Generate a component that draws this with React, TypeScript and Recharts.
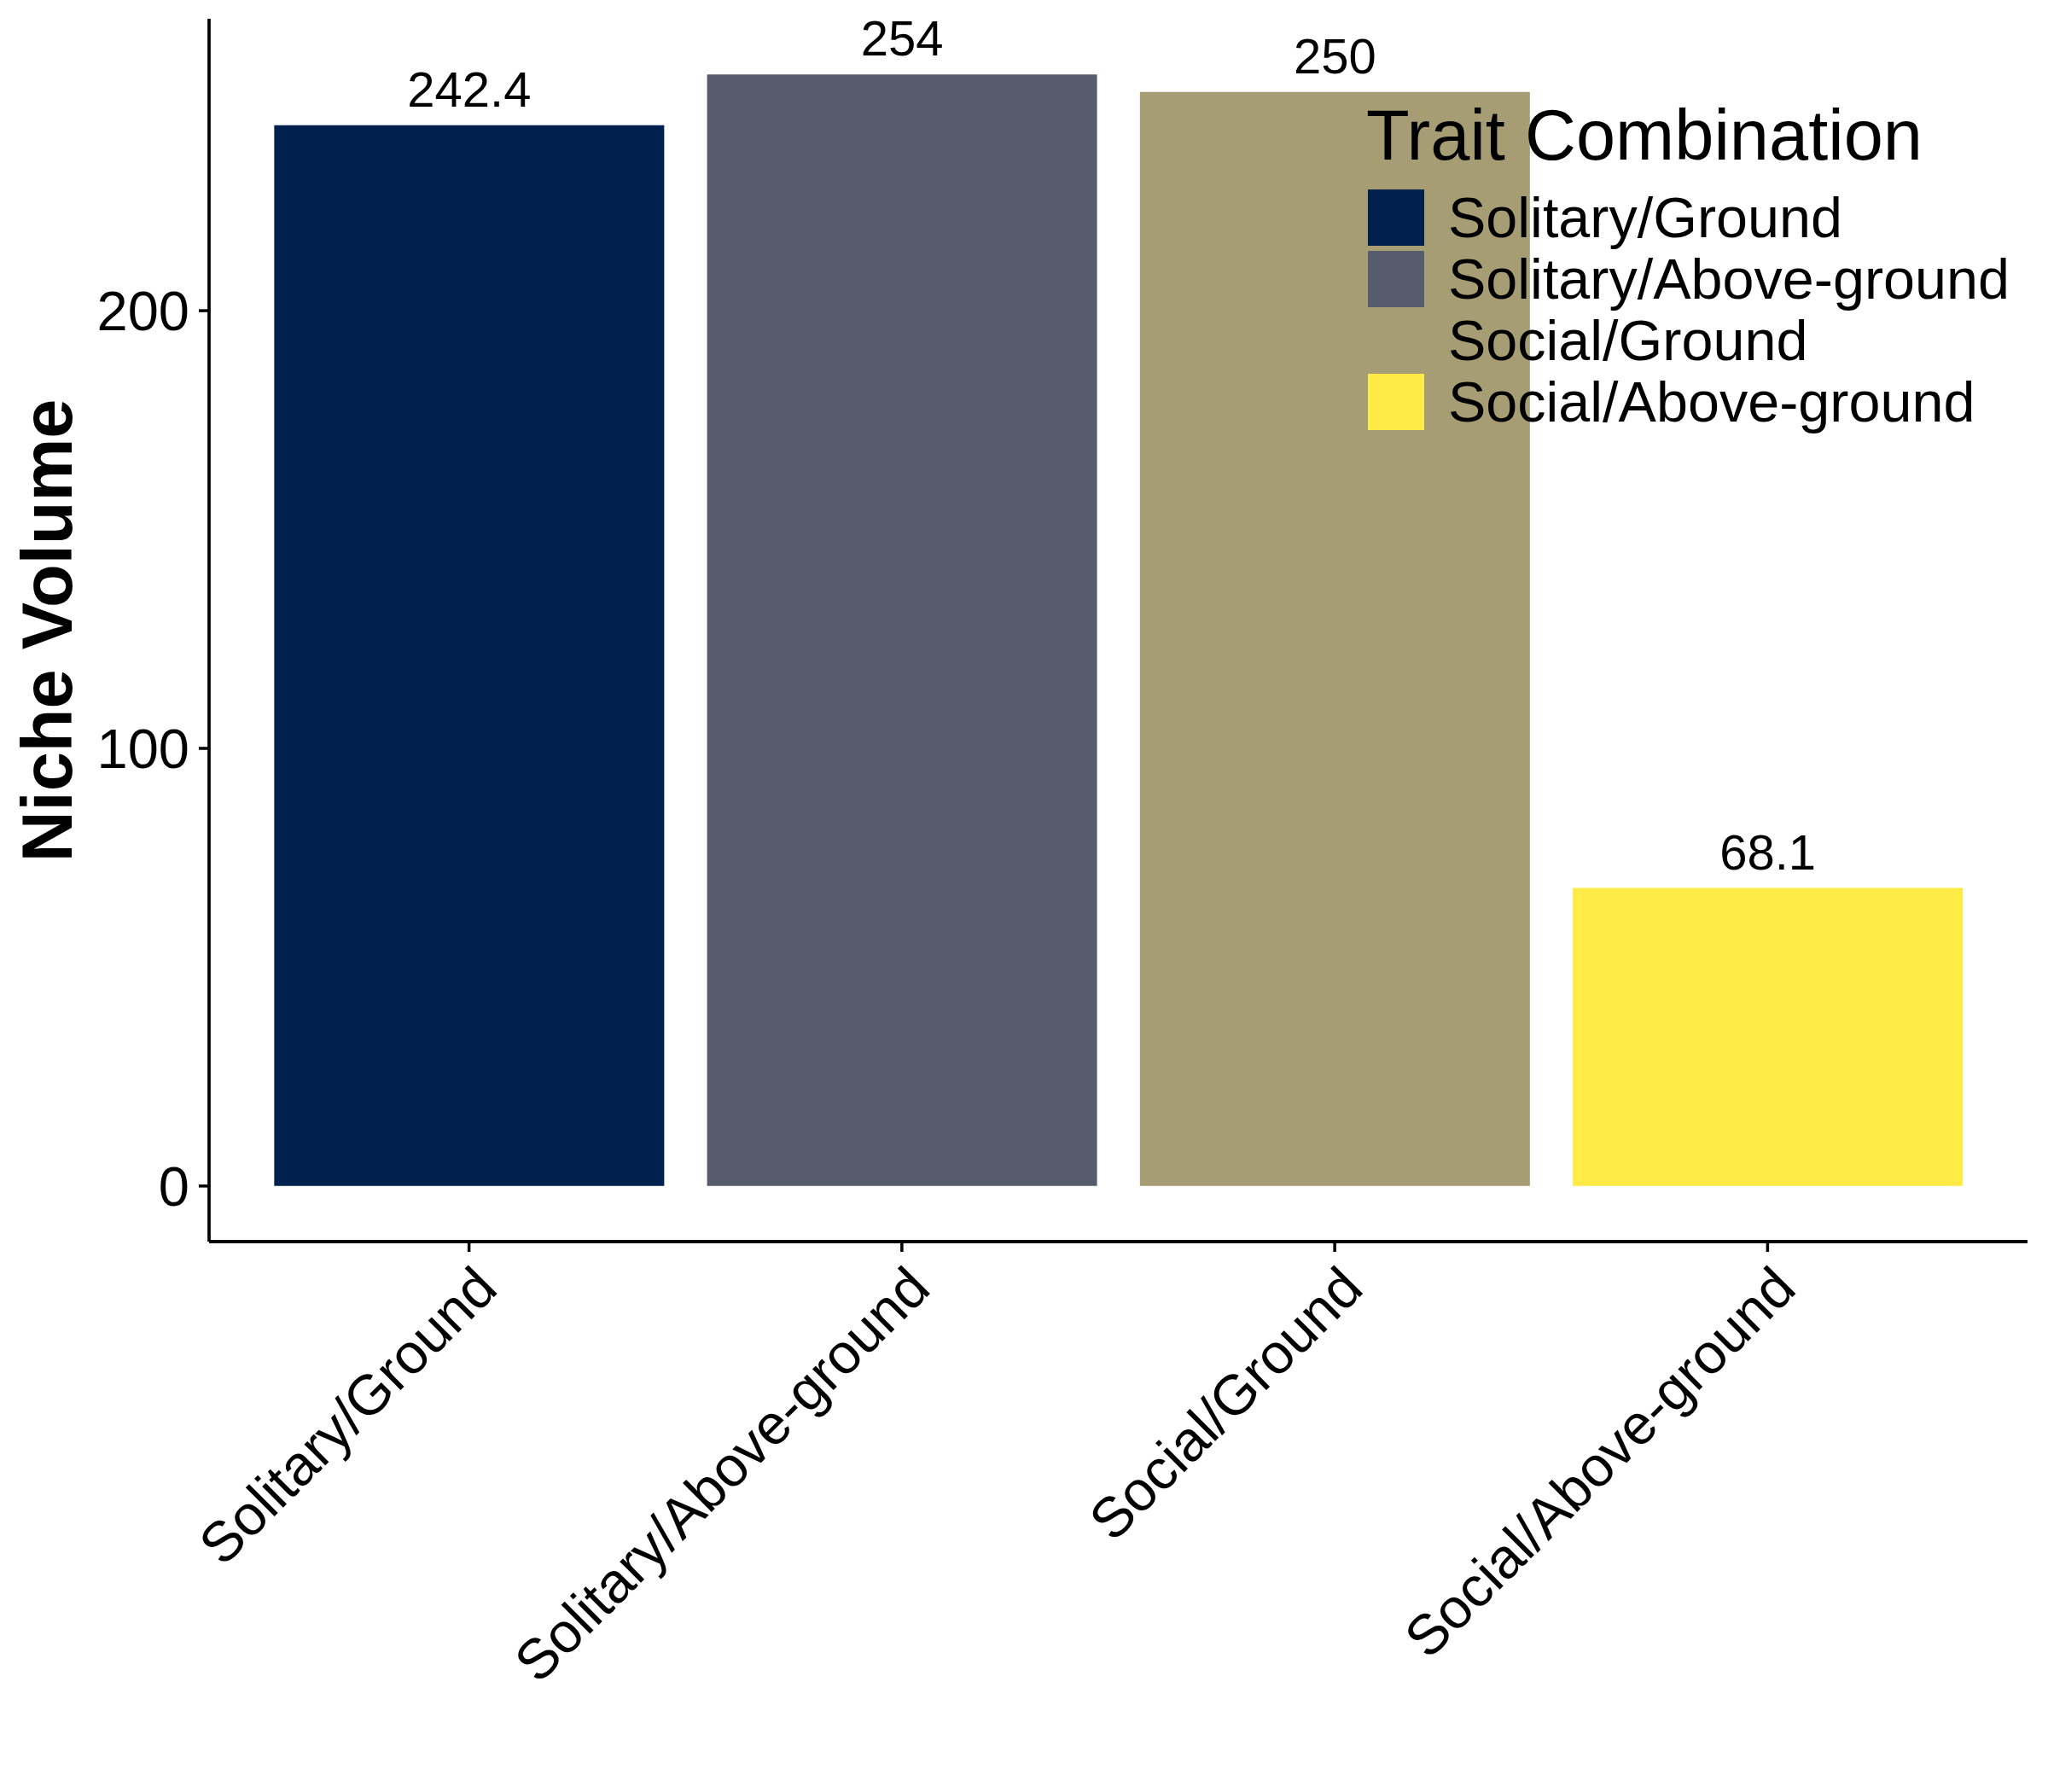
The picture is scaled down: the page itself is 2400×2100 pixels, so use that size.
import React from 'react';
import { BarChart, Bar, Cell, XAxis, YAxis, LabelList, Legend } from 'recharts';

const categories = ['Solitary/Ground', 'Solitary/Above-ground', 'Social/Ground', 'Social/Above-ground'];
const nicheVolume = [242.4, 254, 250, 68.1];
const valueLabels = ['242.4', '254', '250', '68.1'];
const colors = ['#00204D', '#575C6D', '#A69D75', '#FFEA46'];
const yTicks = [0, 100, 200];

const data = categories.map((name, i) => ({ name, value: nicheVolume[i], label: valueLabels[i] }));

const FONT = '"Liberation Sans", Arial, Helvetica, sans-serif';

// rotated 45deg category labels, right end hanging under the tick
function XTick({ x, y, payload }: any) {
  const tx = x + 36;
  const ty = y + 44;
  return (
    <text
      x={tx}
      y={ty}
      textAnchor="end"
      fontSize={66}
      fontFamily={FONT}
      fill="#000"
      transform={`rotate(-45, ${tx}, ${ty})`}
    >
      {payload.value}
    </text>
  );
}

function YTitle() {
  return (
    <text
      x={84}
      y={739}
      textAnchor="middle"
      fontSize={83}
      fontWeight="bold"
      fontFamily={FONT}
      fill="#000"
      transform="rotate(-90, 84, 739)"
    >
      Niche Volume
    </text>
  );
}

function TraitLegend() {
  return (
    <svg width={820} height={420} style={{ display: 'block' }}>
      <text x={11} y={77} fontSize={83} fontFamily={FONT} fill="#000">
        Trait Combination
      </text>
      {categories.map((c, i) => (
        <g key={c}>
          <rect x={13} y={112 + i * 72} width={66} height={66} fill={colors[i]} />
          <text x={107} y={168 + i * 72} fontSize={66.5} fontFamily={FONT} fill="#000">
            {c}
          </text>
        </g>
      ))}
    </svg>
  );
}

export default function App() {
  return (
    <div style={{ position: 'absolute', left: 0, top: 0, background: '#fff' }}>
      <BarChart
        width={2400}
        height={2100}
        data={data}
        margin={{ top: 22, right: 24, left: 0, bottom: 0 }}
        barCategoryGap="5%"
      >
        <XAxis
          dataKey="name"
          height={645}
          interval={0}
          padding={{ left: 51, right: 51 }}
          tickSize={12}
          tick={<XTick />}
          axisLine={{ stroke: '#000', strokeWidth: 4 }}
          tickLine={{ stroke: '#000', strokeWidth: 3.5 }}
        />
        <YAxis
          type="number"
          domain={[-12.7, 266.7]}
          allowDataOverflow
          ticks={yTicks}
          width={245}
          tickSize={12}
          tickMargin={11}
          tick={{ fontSize: 65, fill: '#000', fontFamily: FONT }}
          axisLine={{ stroke: '#000', strokeWidth: 3.7 }}
          tickLine={{ stroke: '#000', strokeWidth: 3.5 }}
          label={<YTitle />}
        />
        <Legend
          layout="vertical"
          align="center"
          verticalAlign="middle"
          content={<TraitLegend />}
          wrapperStyle={{ left: 1590, top: 110, width: 820, height: 420 }}
        />
        <Bar dataKey="value" isAnimationActive={false}>
          {data.map((d, i) => (
            <Cell key={d.name} fill={colors[i]} />
          ))}
          <LabelList
            dataKey="label"
            position="top"
            offset={22}
            style={{ fontSize: 58, fill: '#000', fontFamily: FONT }}
          />
        </Bar>
      </BarChart>
    </div>
  );
}
